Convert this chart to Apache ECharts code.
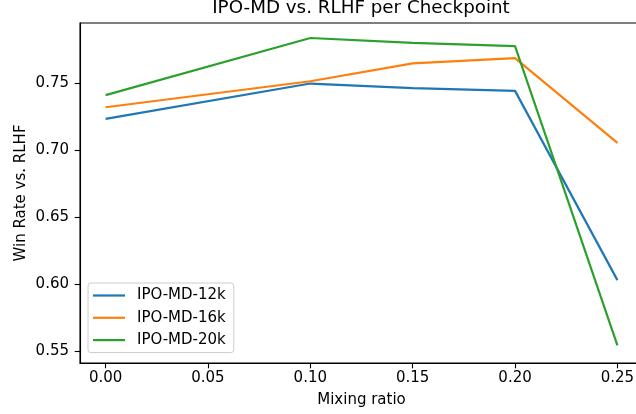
<!DOCTYPE html>
<html>
<head>
<meta charset="utf-8">
<script src="https://cdn.jsdelivr.net/npm/echarts@6/dist/echarts.min.js"></script>
<style>html,body{margin:0;padding:0;background:#fff;overflow:hidden;width:636px;height:414px;}#c{width:650px;height:414px;}</style>
</head>
<body>
<div id="c"></div>
<script>
const mixingRatio = [0.00, 0.10, 0.15, 0.20, 0.25];
const ipo12k = [0.7236, 0.7500, 0.7465, 0.7445, 0.6032];
const ipo16k = [0.7323, 0.7517, 0.7650, 0.7690, 0.7057];
const ipo20k = [0.7413, 0.7840, 0.7803, 0.7780, 0.5545];
const seriesNames = ['IPO-MD-12k', 'IPO-MD-16k', 'IPO-MD-20k'];
const xTicks = [0.00, 0.05, 0.10, 0.15, 0.20, 0.25];
const yTicks = [0.55, 0.60, 0.65, 0.70, 0.75];
const colors = ['#1f77b4', '#ff7f0e', '#2ca02c'];

const font = 'DejaVu Sans';
const chart = echarts.init(document.getElementById('c'), null, {renderer: 'canvas'});
const allSeries = [ipo12k, ipo16k, ipo20k].map((vals, i) => ({
  name: seriesNames[i],
  type: 'line',
  data: mixingRatio.map((x, j) => [x, vals[j]]),
  showSymbol: false,
  symbol: 'none',
  lineStyle: {color: colors[i], width: 2.2},
  itemStyle: {color: colors[i]},
  z: 2
}));

chart.setOption({
  animation: false,
  backgroundColor: '#fff',
  title: {
    text: 'IPO-MD vs. RLHF per Checkpoint',
    left: 356,
    textAlign: 'center',
    top: -6,
    textStyle: {fontFamily: font, fontSize: 18.3, fontWeight: 'normal', color: '#000'}
  },
  grid: {
    left: 80, top: 23, right: 7, bottom: 51,
    show: true, borderColor: '#000', borderWidth: 1.1, backgroundColor: 'transparent'
  },
  legend: {
    left: 88, top: 283,
    orient: 'vertical',
    data: seriesNames,
    icon: 'rect',
    itemWidth: 32, itemHeight: 2.2,
    itemGap: 5.3,
    padding: [4, 8, 4, 5],
    backgroundColor: 'rgba(255,255,255,0.8)',
    borderColor: '#cccccc', borderWidth: 1, borderRadius: 3,
    textStyle: {fontFamily: font, fontSize: 15, color: '#000', lineHeight: 17, padding: [0, 0, 0, 7]}
  },
  xAxis: {
    type: 'value',
    min: -0.0125, max: 0.2625,
    name: 'Mixing ratio',
    nameLocation: 'middle',
    nameGap: 30,
    nameTextStyle: {fontFamily: font, fontSize: 15, color: '#000'},
    axisLine: {show: true, onZero: false, lineStyle: {color: '#000', width: 1.1}},
    axisTick: {show: true, customValues: xTicks, length: 5.3, inside: false, lineStyle: {color: '#000', width: 1.1}},
    axisLabel: {customValues: xTicks, margin: 8, fontFamily: font, fontSize: 15, color: '#000', formatter: v => v.toFixed(2)},
    splitLine: {show: false}
  },
  yAxis: {
    type: 'value',
    min: 0.5413, max: 0.7952,
    name: 'Win Rate vs. RLHF',
    nameLocation: 'middle',
    nameGap: 51,
    nameMoveOverlap: false,
    nameTextStyle: {fontFamily: font, fontSize: 15, color: '#000'},
    axisLine: {show: true, onZero: false, lineStyle: {color: '#000', width: 1.1}},
    axisTick: {show: true, customValues: yTicks, length: 5.3, inside: false, lineStyle: {color: '#000', width: 1.1}},
    axisLabel: {customValues: yTicks, margin: 11, fontFamily: font, fontSize: 15, color: '#000', formatter: v => v.toFixed(2)},
    splitLine: {show: false}
  },
  series: allSeries
});
</script>
</body>
</html>
